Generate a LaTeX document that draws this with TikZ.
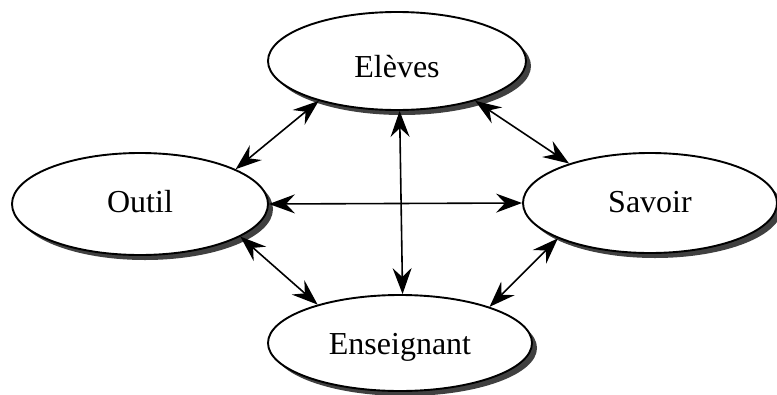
\documentclass[tikz,border=0pt]{standalone}
\usepackage{fontspec}
\setmainfont{Liberation Serif}
\usetikzlibrary{shapes.geometric,shadows,arrows.meta}
\begin{document}
\begin{tikzpicture}[x=1pt,y=-1pt,
  bubble/.style={ellipse,draw=black,line width=1.9pt,fill=white,inner sep=0pt,
    font=\fontsize{32}{36}\selectfont,text depth=0pt,
    drop shadow={shadow xshift=5pt,shadow yshift=-5pt,fill=black!75,opacity=1}},
  tip/.tip={Stealth[length=26pt,width=19pt,inset=9pt]},
  link/.style={line width=1.6pt,tip-tip}]
\useasboundingbox (0,0) rectangle (777,394);
\node[bubble,minimum width=258pt,minimum height=98pt,text height=33pt] (el) at (397,61) {Elèves};
\node[bubble,minimum width=256pt,minimum height=102pt,text height=16pt] (ou) at (140,204) {Outil};
\node[bubble,minimum width=254pt,minimum height=100pt,text height=18pt] (sa) at (650,203) {Savoir};
\node[bubble,minimum width=264pt,minimum height=96pt,text height=22pt] (en) at (400,343) {Enseignant};
\draw[link] (el.207) -- (ou.20);
\draw[link] (el.333) -- (sa.154);
\draw[link] (el.273) -- (en.87);
\draw[link] (ou.east) -- (sa.west);
\draw[link] (ou.342) -- (en.155);
\draw[link] (sa.201) -- (en.22);
\end{tikzpicture}
\end{document}
